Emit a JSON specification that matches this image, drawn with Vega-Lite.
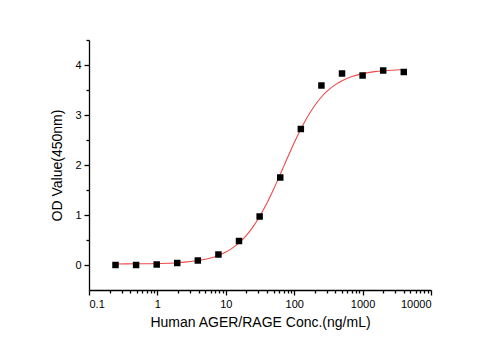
{
  "$schema": "https://vega.github.io/schema/vega-lite/v6.json",
  "autosize": "none",
  "width": 342,
  "height": 250,
  "padding": {"left": 89, "top": 40, "right": 72, "bottom": 61},
  "background": "white",
  "config": {
    "view": {"stroke": null},
    "font": "Liberation Sans",
    "axis": {
      "grid": false,
      "domainColor": "black",
      "domainWidth": 1.3,
      "tickColor": "black",
      "tickWidth": 1.3,
      "labelColor": "black",
      "labelFont": "Liberation Sans",
      "labelFontSize": 11,
      "titleFont": "Liberation Sans",
      "titleFontSize": 14,
      "titleFontWeight": "normal",
      "titleColor": "black"
    }
  },
  "datasets": {
    "curve": [
      {"conc": 0.25, "od": 0.021},
      {"conc": 0.5, "od": 0.024},
      {"conc": 1, "od": 0.030},
      {"conc": 2, "od": 0.046},
      {"conc": 4, "od": 0.089},
      {"conc": 6, "od": 0.140},
      {"conc": 8, "od": 0.197},
      {"conc": 10, "od": 0.258},
      {"conc": 12, "od": 0.323},
      {"conc": 15, "od": 0.422},
      {"conc": 20, "od": 0.593},
      {"conc": 25, "od": 0.763},
      {"conc": 30, "od": 0.929},
      {"conc": 40, "od": 1.240},
      {"conc": 50, "od": 1.516},
      {"conc": 60, "od": 1.757},
      {"conc": 70, "od": 1.967},
      {"conc": 80, "od": 2.150},
      {"conc": 100, "od": 2.446},
      {"conc": 120, "od": 2.672},
      {"conc": 150, "od": 2.922},
      {"conc": 200, "od": 3.191},
      {"conc": 250, "od": 3.360},
      {"conc": 300, "od": 3.471},
      {"conc": 400, "od": 3.608},
      {"conc": 500, "od": 3.687},
      {"conc": 700, "od": 3.771},
      {"conc": 1000, "od": 3.828},
      {"conc": 1500, "od": 3.868},
      {"conc": 2000, "od": 3.885},
      {"conc": 3000, "od": 3.900},
      {"conc": 4000, "od": 3.907}
    ],
    "points": [
      {"conc": 0.244, "od": 0.00},
      {"conc": 0.488, "od": 0.00},
      {"conc": 0.977, "od": 0.01},
      {"conc": 1.95, "od": 0.04},
      {"conc": 3.9, "od": 0.09},
      {"conc": 7.8, "od": 0.21},
      {"conc": 15.6, "od": 0.48},
      {"conc": 31.25, "od": 0.97},
      {"conc": 62.5, "od": 1.75},
      {"conc": 125, "od": 2.72},
      {"conc": 250, "od": 3.59},
      {"conc": 500, "od": 3.83},
      {"conc": 1000, "od": 3.79},
      {"conc": 2000, "od": 3.89},
      {"conc": 4000, "od": 3.86}
    ]
  },
  "layer": [
    {
      "data": {"name": "curve"},
      "mark": {"type": "line", "color": "#f24a4a", "strokeWidth": 1.1, "interpolate": "monotone"},
      "encoding": {
        "x": {
          "field": "conc", "type": "quantitative",
          "scale": {"type": "log", "domain": [0.1, 10000], "nice": false},
          "axis": {
            "orient": "bottom",
            "values": [0.1, 1, 10, 100, 1000, 10000],
            "format": "~g",
            "tickSize": 5,
            "labelPadding": 3,
            "title": "Human AGER/RAGE Conc.(ng/mL)",
            "titlePadding": 6
          }
        },
        "y": {
          "field": "od", "type": "quantitative",
          "scale": {"domain": [-0.5, 4.5], "nice": false, "zero": false},
          "axis": {
            "orient": "left",
            "values": [0, 1, 2, 3, 4],
            "tickSize": 5,
            "labelPadding": 3,
            "title": "OD Value(450nm)",
            "titlePadding": 10
          }
        }
      }
    },
    {
      "data": {"name": "points"},
      "mark": {"type": "square", "color": "black", "size": 42, "opacity": 1},
      "encoding": {
        "x": {
          "field": "conc", "type": "quantitative",
          "scale": {"type": "log", "domain": [0.1, 10000], "nice": false},
          "axis": {
            "orient": "bottom",
            "values": [0.2,0.3,0.4,0.5,0.6,0.7,0.8,0.9,2,3,4,5,6,7,8,9,20,30,40,50,60,70,80,90,200,300,400,500,600,700,800,900,2000,3000,4000,5000,6000,7000,8000,9000],
            "labels": false,
            "domain": false,
            "tickSize": 3,
            "title": null
          }
        },
        "y": {
          "field": "od", "type": "quantitative",
          "scale": {"domain": [-0.5, 4.5], "nice": false, "zero": false},
          "axis": {
            "orient": "left",
            "values": [0.5, 1.5, 2.5, 3.5, 4.5],
            "labels": false,
            "domain": false,
            "tickSize": 3,
            "title": null
          }
        }
      }
    }
  ],
  "resolve": {"axis": {"x": "independent", "y": "independent"}}
}
